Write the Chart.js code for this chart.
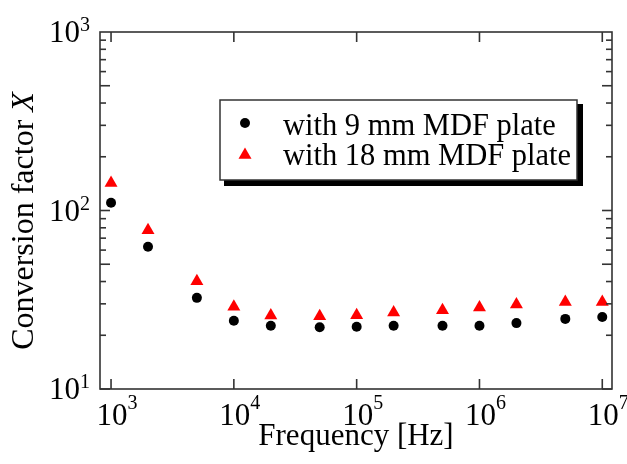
<!DOCTYPE html>
<html>
<head>
<meta charset="utf-8">
<script src="https://cdn.jsdelivr.net/npm/chart.js@4/dist/chart.umd.min.js"></script>
<style>
  html, body { margin: 0; padding: 0; background: #ffffff; }
  #c { display: block; }
</style>
</head>
<body>
<canvas id="c" width="627" height="464"></canvas>
<script>
// Measured conversion factor X versus excitation frequency
const frequencies = [1e3, 2e3, 5e3, 1e4, 2e4, 5e4, 1e5, 2e5, 5e5, 1e6, 2e6, 5e6, 1e7];
const plate9mm   = [110.6, 62.7, 32.4, 24.1, 22.6, 22.2, 22.3, 22.6, 22.6, 22.6, 23.4, 24.7, 25.3];
const plate18mm  = [142.4, 77.6, 40.2, 28.9, 25.8, 25.6, 25.9, 26.8, 27.6, 28.6, 29.7, 30.7, 30.7];
const seriesLabels = ['with 9 mm MDF plate', 'with 18 mm MDF plate'];
const xTickExponents = [3, 4, 5, 6, 7];
const yTickExponents = [1, 2, 3];
const xTitle = 'Frequency [Hz]';
const yTitle = 'Conversion factor ';
const yTitleSymbol = 'X';

const SERIF = '"Liberation Serif", "Times New Roman", serif';
const AXIS_COLOR = '#333333';

function toPoints(xs, ys) {
  return xs.map((x, i) => ({ x: x, y: ys[i] }));
}

function line(ctx, x1, y1, x2, y2) {
  ctx.beginPath();
  ctx.moveTo(x1, y1);
  ctx.lineTo(x2, y2);
  ctx.stroke();
}

// Frame, inward ticks, power-of-ten labels, titles and boxed legend
const decorations = {
  id: 'decorations',
  afterDraw(chart) {
    const ctx = chart.ctx;
    const { left, right, top, bottom } = chart.chartArea;
    const xs = chart.scales.x;
    const ys = chart.scales.y;
    ctx.save();

    // frame
    ctx.strokeStyle = AXIS_COLOR;
    ctx.lineWidth = 1.6;
    ctx.strokeRect(left, top, right - left, bottom - top);

    // x: major ticks only, bottom and top
    xTickExponents.forEach(e => {
      const px = xs.getPixelForValue(Math.pow(10, e));
      line(ctx, px, bottom, px, bottom - 10);
      line(ctx, px, top, px, top + 10);
    });

    // y: decade and half-decade ticks long, others short
    for (let e = yTickExponents[0]; e < yTickExponents[yTickExponents.length - 1]; e++) {
      for (let m = 1; m <= 9; m++) {
        const v = m * Math.pow(10, e);
        const py = ys.getPixelForValue(v);
        const len = (m === 1 || m === 5) ? 10 : 6;
        line(ctx, left, py, left + len, py);
        line(ctx, right, py, right - len, py);
      }
    }

    // tick labels
    ctx.fillStyle = '#000000';
    ctx.textBaseline = 'alphabetic';
    const baseFont = '31px ' + SERIF;
    const expFont = '20px ' + SERIF;
    xTickExponents.forEach(e => {
      const px = xs.getPixelForValue(Math.pow(10, e));
      ctx.font = baseFont;
      const w = ctx.measureText('10').width;
      ctx.textAlign = 'left';
      ctx.fillText('10', px - w / 2 + 1, bottom + 36);
      ctx.font = expFont;
      ctx.fillText(String(e), px + w / 2 + 1, bottom + 20);
    });
    yTickExponents.forEach(e => {
      const py = ys.getPixelForValue(Math.pow(10, e));
      ctx.font = expFont;
      const ew = ctx.measureText(String(e)).width;
      ctx.textAlign = 'right';
      ctx.fillText(String(e), left - 10, py - 1);
      ctx.font = baseFont;
      ctx.fillText('10', left - 10 - ew, py + 10);
    });

    // axis titles
    ctx.font = '31px ' + SERIF;
    ctx.textAlign = 'center';
    ctx.fillText(xTitle, 356, bottom + 56);

    ctx.save();
    ctx.translate(33, 221);
    ctx.rotate(-Math.PI / 2);
    ctx.font = '32px ' + SERIF;
    const w1 = ctx.measureText(yTitle).width;
    ctx.font = 'italic 32px ' + SERIF;
    const w2 = ctx.measureText(yTitleSymbol).width;
    ctx.textAlign = 'left';
    ctx.font = '32px ' + SERIF;
    ctx.fillText(yTitle, -(w1 + w2) / 2, 0);
    ctx.font = 'italic 32px ' + SERIF;
    ctx.fillText(yTitleSymbol, -(w1 + w2) / 2 + w1, 0);
    ctx.restore();

    // legend box with drop shadow
    const bx = 220, by = 100, bw = 357, bh = 80;
    ctx.fillStyle = '#000000';
    ctx.fillRect(bx + 4, by + 4, bw + 2, bh + 2);
    ctx.fillStyle = '#ffffff';
    ctx.fillRect(bx, by, bw, bh);
    ctx.strokeStyle = AXIS_COLOR;
    ctx.lineWidth = 1.5;
    ctx.strokeRect(bx, by, bw, bh);

    const rows = [by + 23, by + 53];
    chart.data.datasets.forEach((ds, i) => {
      const mx = bx + 25;
      ctx.fillStyle = ds.backgroundColor;
      ctx.beginPath();
      if (ds.pointStyle === 'triangle') {
        const r = ds.pointRadius;
        const my = rows[i] + 2;
        ctx.moveTo(mx, my - r);
        ctx.lineTo(mx + r * Math.sin(2 * Math.PI / 3), my + r / 2);
        ctx.lineTo(mx - r * Math.sin(2 * Math.PI / 3), my + r / 2);
        ctx.closePath();
      } else {
        ctx.arc(mx, rows[i], ds.pointRadius, 0, Math.PI * 2);
      }
      ctx.fill();
      ctx.fillStyle = '#000000';
      ctx.font = '30.5px ' + SERIF;
      ctx.textAlign = 'left';
      ctx.fillText(ds.label, bx + 63, rows[i] + 12);
    });

    ctx.restore();
  }
};

new Chart(document.getElementById('c'), {
  type: 'scatter',
  data: {
    datasets: [
      {
        label: seriesLabels[0],
        data: toPoints(frequencies, plate9mm),
        pointStyle: 'circle',
        pointRadius: 5,
        backgroundColor: '#000000',
        borderWidth: 0
      },
      {
        label: seriesLabels[1],
        data: toPoints(frequencies, plate18mm),
        pointStyle: 'triangle',
        pointRadius: 7.5,
        backgroundColor: '#ff0000',
        borderWidth: 0
      }
    ]
  },
  options: {
    responsive: false,
    devicePixelRatio: 1,
    animation: false,
    layout: { padding: { left: 100, right: 15, top: 32, bottom: 75 } },
    plugins: {
      legend: { display: false },
      tooltip: { enabled: false }
    },
    scales: {
      x: { type: 'logarithmic', min: 813, max: 1.2e7, display: false },
      y: { type: 'logarithmic', min: 10, max: 1000, display: false }
    }
  },
  plugins: [decorations]
});
</script>
</body>
</html>
